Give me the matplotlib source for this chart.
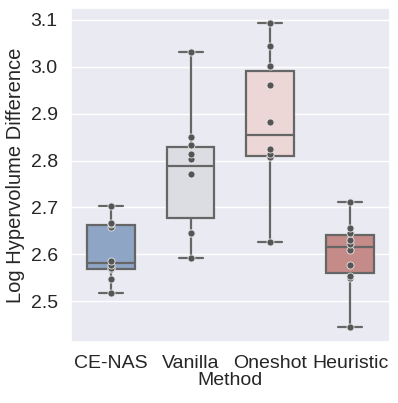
import matplotlib
matplotlib.use('Agg')
import matplotlib.pyplot as plt
import seaborn as sns
import numpy as np

methods = ['CE-NAS', 'Vanilla', 'Oneshot', 'Heuristic']
ce_nas = [2.517, 2.548, 2.568, 2.571, 2.578, 2.585, 2.659, 2.664, 2.666, 2.703]
vanilla = [2.593, 2.645, 2.645, 2.771, 2.771, 2.804, 2.814, 2.833, 2.851, 3.032]
oneshot = [2.627, 2.808, 2.808, 2.814, 2.825, 2.883, 2.961, 3.002, 3.045, 3.093]
heuristic = [2.445, 2.549, 2.554, 2.578, 2.610, 2.622, 2.631, 2.645, 2.656, 2.711]
box_colors = ['#8ea5c6', '#dcdde3', '#ecd7d6', '#c48b88']


def main():
    sns.set_theme(style='darkgrid', font_scale=1.2)
    plt.rcParams['font.family'] = ['Liberation Sans', 'DejaVu Sans']

    fig = plt.figure(figsize=(3.98, 4.03), dpi=100)
    ax = fig.add_axes([0.178, 0.151, 0.802, 0.829])

    data = [ce_nas, vanilla, oneshot, heuristic]
    pos = np.arange(len(methods))

    def line():
        return dict(color='#666666', linewidth=1.6)

    bp = ax.boxplot(data, positions=pos, widths=0.6, patch_artist=True,
                    whis=1.5, showfliers=False,
                    boxprops=dict(edgecolor='#666666', linewidth=1.6),
                    whiskerprops=line(), capprops=line(),
                    medianprops=line())
    for patch, c in zip(bp['boxes'], box_colors):
        patch.set_facecolor(c)

    for i, vals in enumerate(data):
        ax.scatter(np.full(len(vals), i), vals, s=26, color='#555555',
                   edgecolor='#e6e6e6', linewidth=0.6, zorder=5)

    ax.set_xlim(-0.5, 3.5)
    ax.set_ylim(2.4126, 3.1254)
    ax.set_yticks([2.5, 2.6, 2.7, 2.8, 2.9, 3.0, 3.1])
    ax.set_xticks(pos)
    ax.set_xticklabels(methods)
    ax.tick_params(labelsize=14)
    # categorical axis: no vertical grid
    ax.grid(False, axis='x')
    ax.set_xlabel('Method', labelpad=0, fontsize=14)
    ax.set_ylabel('Log Hypervolume Difference', fontsize=14.5)

    fig.savefig('out.png', dpi=100)


if __name__ == '__main__':
    main()
